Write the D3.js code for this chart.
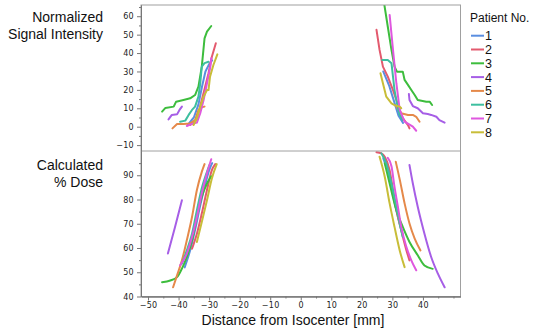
<!DOCTYPE html>
<html>
<head>
<meta charset="utf-8">
<script src="https://cdn.jsdelivr.net/npm/d3@7"></script>
<style>
  body { margin: 0; background: #fff; }
  svg { font-family: "Liberation Sans", Arial, sans-serif; }
  .tick text { font-family: "DejaVu Sans", sans-serif; font-size: 8px; fill: #222; letter-spacing: 0.3px; }
</style>
</head>
<body>
<svg id="chart" width="534" height="329"></svg>
<script>
// patient labels and colours
const patients = ['1', '2', '3', '4', '5', '6', '7', '8'];
const colors = ['#5a8ee0', '#e35a6e', '#3dbd3d', '#a65ee6', '#e5894a', '#3dbf9f', '#df57df', '#c8bd38'];

// tick values
const xTicks = [-50, -40, -30, -20, -10, 0, 10, 20, 30, 40];
const sigTicks = [-10, 0, 10, 20, 30, 40, 50, 60];
const doseTicks = [40, 50, 60, 70, 80, 90];

// normalized signal intensity, entering side (x mm, value), one array per patient
const signalLeft = [
  [[-37, 1], [-35, 5], [-33.5, 12], [-32.3, 22], [-31.2, 30], [-30, 34], [-29, 36]],
  [[-36.2, 0.9], [-34.6, 2.7], [-33.5, 7.3], [-32.4, 14.5], [-31.3, 21.7], [-30.2, 29], [-29.1, 38], [-27.8, 45.3]],
  [[-45.4, 8.2], [-44.3, 10.2], [-41.6, 10.9], [-40.8, 13.6], [-38.4, 14.5], [-36.2, 15.4], [-34.6, 17.2], [-33.5, 21.7], [-32.4, 32.6], [-31.5, 48], [-30.7, 51.6], [-29.3, 54.7]],
  [[-43.3, 4.0], [-42.2, 6.4], [-40.5, 6.7], [-39.7, 9.1], [-38.9, 10.9]],
  [[-42.0, -0.9], [-40.5, 1.5], [-38.4, 1.5], [-36.2, 1.8], [-34.6, 3.6], [-33.5, 9.1], [-32.4, 10.5], [-31.5, 10.9]],
  [[-39.5, 2.7], [-37.8, 3.3], [-36.7, 6.4], [-35.6, 9.1], [-34.6, 10.9], [-33.5, 16.3], [-32.9, 23.6], [-32.4, 32.6], [-31.5, 34.5], [-30.2, 35.3]],
  [[-37.3, 0.4], [-35.6, 1.5], [-34.0, 2.2], [-32.9, 7.3], [-31.8, 14.5], [-30.7, 23.6], [-29.6, 32.6], [-29.3, 37.2]],
  [[-35.1, 0.9], [-34.0, 4.6], [-32.9, 10.9], [-31.8, 16.3], [-30.7, 19.9], [-30.2, 19.9], [-29.7, 27.2], [-28.6, 33.5], [-27.3, 39.3]]
];

// normalized signal intensity, exiting side
const signalRight = [
  [[27, 30], [29, 22], [30.5, 14], [32, 6], [33.5, 2]],
  [[24.8, 52.6], [25.8, 41.7], [26.9, 32.6], [28.5, 27.2], [30.2, 19.9], [31.3, 14.5], [32.4, 9.1], [33.4, 4.6], [35.1, 0.9], [35.6, -0.9]],
  [[27.2, 68], [28.5, 54.3], [29.7, 41.7], [30.7, 32.6], [31.5, 29.9], [33.4, 29.9], [34.0, 25.4], [35.1, 22.7], [36.2, 19.9], [37.3, 17.2], [38.3, 14.5], [41.1, 13.6], [42.2, 13.6], [43.0, 11.8]],
  [[35.4, 17.8], [35.6, 14.5], [36.7, 11.2], [38.3, 10], [40.0, 7.3], [41.6, 6.9], [42.7, 6.4], [44.4, 5.4], [45.4, 3.6], [47.1, 2.2]],
  [[31.3, 10.9], [32.9, 7.3], [35.1, 6.4], [36.7, 6.4], [37.8, 5.4], [38.9, 2.7]],
  [[26.7, 36.2], [28.5, 36.2], [29.7, 34.5], [30.2, 27.2], [30.7, 19.9], [31.5, 12.7], [32.4, 6.4], [33.4, 3.6]],
  [[29.1, 60.7], [30.2, 41.7], [31.3, 23.6], [32.4, 9.1], [34.0, 2.7], [36.7, 0], [37.8, -2.2]],
  [[26.1, 29], [26.9, 23.6], [28.0, 16.3], [29.7, 12.7], [31.0, 11.5], [32.4, 10.9], [32.9, 10]]
];

// calculated % dose, entering side
const doseLeft = [
  [[-38, 52], [-36, 60], [-34.5, 68], [-33, 77], [-31.5, 85], [-30, 92], [-29, 95]],
  [[-35.6, 59.7], [-34.0, 65.9], [-32.4, 74.2], [-30.7, 83.9], [-29.1, 92.1], [-28.0, 94.6]],
  [[-45.4, 45.9], [-42.7, 46.6], [-40.5, 48], [-38.9, 51.5], [-37.3, 56.3], [-35.6, 63.2], [-34.0, 72.8], [-32.4, 81.1], [-30.7, 86.6], [-29.3, 89.6]],
  [[-43.5, 57.7], [-41.2, 68.5], [-38.9, 79.7]],
  [[-41.8, 43.8], [-40.5, 48.7], [-38.9, 54.9], [-37.3, 63.2], [-35.6, 72.8], [-34.0, 83.9], [-32.4, 91.4], [-31.5, 94.6]],
  [[-38.9, 53.5], [-37.3, 59.0], [-35.6, 65.9], [-34.0, 75.6], [-32.4, 84.6], [-30.7, 91.4], [-29.9, 94.2]],
  [[-39.5, 52.8], [-37.3, 57.7], [-35.6, 64.5], [-34.0, 72.8], [-32.4, 82.5], [-30.7, 90.8], [-29.3, 96.6]],
  [[-34.0, 62.5], [-32.4, 70.7], [-30.7, 79.7], [-29.1, 88.7], [-27.5, 94.6]]
];

// calculated % dose, exiting side
const doseRight = [
  [[27, 97], [29, 89], [30.5, 80], [32, 72], [33.5, 65]],
  [[24.8, 99.5], [26.4, 99.0], [27.5, 97.6], [29.1, 92.1], [30.2, 83.9], [31.3, 75.6], [32.9, 67.3], [34.6, 59.0], [35.6, 54.9]],
  [[27.5, 94.9], [29.1, 86.6], [31.3, 75.6], [33.4, 68.7], [35.6, 62.5], [38.3, 57], [40.5, 52.8], [43.2, 51.4]],
  [[35.6, 94.2], [36.7, 86.6], [38.3, 77], [40.5, 65.9], [42.7, 56.3], [44.9, 49.4], [47.1, 43.8]],
  [[31.1, 95.6], [32.4, 88.3], [34.0, 78.4], [35.6, 70.1], [37.3, 63.9], [39.2, 59]],
  [[26.4, 99], [28.0, 94.9], [29.7, 86.6], [31.3, 77], [32.4, 70.1], [33.4, 64.5]],
  [[28.5, 97.2], [29.7, 93.7], [30.7, 85.2], [31.8, 77.0], [32.9, 68.7], [34.6, 60.4], [36.2, 54.9], [37.8, 50.8]],
  [[25.8, 97.6], [27.5, 89.4], [29.1, 78.4], [30.7, 68.7], [32.4, 59.0], [34.0, 52.1]]
];

const svg = d3.select('#chart');
const left = 141, right = 460.5;
const topY = 5, midY = 151, bottomY = 296.5;

const x = d3.scaleLinear().domain([-52.3, 52.3]).range([left, right]);
const ySig = d3.scaleLinear().domain([-13.2, 66.1]).range([midY, topY]);
const yDose = d3.scaleLinear().domain([40, 100]).range([bottomY, midY]);

const defs = svg.append('defs');
defs.append('clipPath').attr('id', 'clipTop')
  .append('rect').attr('x', left).attr('y', topY).attr('width', right - left).attr('height', midY - topY);
defs.append('clipPath').attr('id', 'clipBottom')
  .append('rect').attr('x', left).attr('y', midY).attr('width', right - left).attr('height', bottomY - midY);

function drawPanel(yScale, sets, clipId, curve) {
  const g = svg.append('g').attr('clip-path', `url(#${clipId})`);
  const line = d3.line().x(d => x(d[0])).y(d => yScale(d[1])).curve(curve);
  sets.forEach(series => {
    series.forEach((pts, i) => {
      g.append('path')
        .attr('d', line(pts))
        .attr('fill', 'none')
        .attr('stroke', colors[i])
        .attr('stroke-width', 2)
        .attr('stroke-linejoin', 'round')
        .attr('stroke-linecap', 'round');
    });
  });
}

drawPanel(ySig, [signalLeft, signalRight], 'clipTop', d3.curveLinear);
drawPanel(yDose, [doseLeft, doseRight], 'clipBottom', d3.curveMonotoneX);

// frame
svg.append('rect')
  .attr('x', left).attr('y', topY)
  .attr('width', right - left).attr('height', bottomY - topY)
  .attr('fill', 'none').attr('stroke', '#a0a0a0').attr('stroke-width', 1);
svg.append('line')
  .attr('x1', left).attr('x2', right).attr('y1', midY).attr('y2', midY)
  .attr('stroke', '#a0a0a0');

// axes
function minor(lo, hi, step, major) {
  return d3.range(lo, hi + 0.001, step).filter(v => !major.includes(v));
}

function styleAxis(g) {
  g.select('.domain').attr('stroke', '#777');
  g.selectAll('.tick line').attr('stroke', '#777');
}

svg.append('g')
  .attr('transform', `translate(${left},0)`)
  .call(d3.axisLeft(ySig).tickValues(sigTicks).tickSize(4).tickSizeOuter(0).tickPadding(3))
  .call(styleAxis);
svg.append('g')
  .attr('transform', `translate(${left},0)`)
  .call(d3.axisLeft(ySig).tickValues(minor(-10, 65, 5, sigTicks)).tickSize(2).tickFormat('').tickSizeOuter(0))
  .call(styleAxis);

svg.append('g')
  .attr('transform', `translate(${left},0)`)
  .call(d3.axisLeft(yDose).tickValues(doseTicks).tickSize(4).tickSizeOuter(0).tickPadding(3))
  .call(styleAxis);
svg.append('g')
  .attr('transform', `translate(${left},0)`)
  .call(d3.axisLeft(yDose).tickValues(minor(45, 95, 5, doseTicks)).tickSize(2).tickFormat('').tickSizeOuter(0))
  .call(styleAxis);

svg.append('g')
  .attr('transform', `translate(0,${bottomY})`)
  .call(d3.axisBottom(x).tickValues(xTicks).tickSize(4).tickSizeOuter(0).tickPadding(2))
  .call(styleAxis);
svg.append('g')
  .attr('transform', `translate(0,${bottomY})`)
  .call(d3.axisBottom(x).tickValues(minor(-45, 50, 5, xTicks)).tickSize(2).tickFormat('').tickSizeOuter(0))
  .call(styleAxis);

// titles
const title = svg.append('g').attr('font-size', 14).attr('fill', '#111');
title.append('text').attr('x', 103).attr('y', 22).attr('text-anchor', 'end').text('Normalized');
title.append('text').attr('x', 103).attr('y', 38.5).attr('text-anchor', 'end').text('Signal Intensity');
title.append('text').attr('x', 103).attr('y', 170).attr('text-anchor', 'end').text('Calculated');
title.append('text').attr('x', 103).attr('y', 186.5).attr('text-anchor', 'end').text('% Dose');
title.append('text').attr('x', 293).attr('y', 325).attr('text-anchor', 'middle').text('Distance from Isocenter [mm]');

// legend
const legend = svg.append('g').attr('transform', 'translate(470,0)');
legend.append('text').attr('x', 0).attr('y', 22).attr('font-size', 12).attr('fill', '#111').text('Patient No.');
const item = legend.selectAll('.item').data(patients).enter().append('g')
  .attr('transform', (d, i) => `translate(0,${35.7 + i * 13.8})`);
item.append('line').attr('x1', 1).attr('x2', 14).attr('y1', 0).attr('y2', 0)
  .attr('stroke', (d, i) => colors[i]).attr('stroke-width', 2);
item.append('text').attr('x', 15).attr('y', 4.5).attr('font-size', 12.5).attr('fill', '#111').text(d => d);
</script>
</body>
</html>
